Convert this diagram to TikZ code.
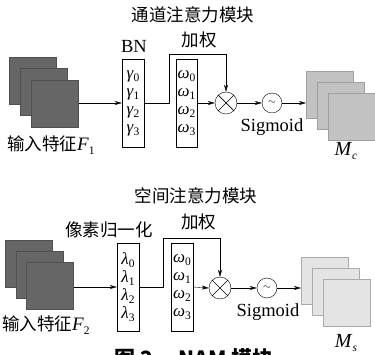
\documentclass[tikz,border=0pt]{standalone}
\usepackage{fontspec}
\setmainfont{Liberation Serif}
\newfontfamily\cjk{Noto Sans CJK SC}
\usetikzlibrary{arrows.meta}
\definecolor{darkfill}{HTML}{666666}
\definecolor{darkline}{HTML}{505050}
\definecolor{midfill}{HTML}{C2C2C2}
\definecolor{midline}{HTML}{A0A0A0}
\definecolor{lightfill}{HTML}{E4E4E4}
\definecolor{lightline}{HTML}{ABABAB}
% italic symbol with a lowered, smaller index
\newcommand\symidx[2]{\textit{#1}\raisebox{-0.45ex}{\fontsize{11.5}{12}\selectfont #2}}
\tikzset{
  x=1pt, y=-1pt,
  line width=0.8pt,
  arr/.style={-{Stealth[length=7pt,width=4pt]}},
  sheet/.style={rectangle, minimum width=47pt, minimum height=47pt,
    inner sep=0pt, anchor=north west, line width=0.6pt},
  darksheet/.style={sheet, fill=darkfill, draw=darkline},
  midsheet/.style={sheet, fill=midfill, draw=midline},
  lightsheet/.style={sheet, fill=lightfill, draw=lightline},
  vecbox/.style={draw, rectangle, minimum width=22pt, minimum height=88pt,
    inner sep=0pt, align=center, font=\fontsize{17}{18}\selectfont},
  opnode/.style={draw, circle, minimum size=22pt, inner sep=0pt},
  signode/.style={draw, circle, minimum size=20pt, inner sep=0pt},
  cjklabel/.style={inner sep=0pt, font=\cjk\fontsize{17.5}{20}\selectfont},
  latlabel/.style={inner sep=0pt, font=\fontsize{18.5}{20}\selectfont},
}
\begin{document}
\begin{tikzpicture}
\useasboundingbox (0,0) rectangle (375,355);

% ---------- channel attention ----------
\node[cjklabel] (title1) at (193,15) {通道注意力模块};

\node[darksheet] (in1a) at (9,57) {};
\node[darksheet] (in1b) at (20,68) {};
\node[darksheet] (in1c) at (31,80) {};
\node[cjklabel, anchor=west] (inlab1) at (7,145) {输入特征{\rmfamily\fontsize{19}{20}\selectfont\symidx{F}{1}}};

\node[vecbox] (bn) at (133,103) {\symidx{γ}{0}\\\symidx{γ}{1}\\\symidx{γ}{2}\\\symidx{γ}{3}};
\node[latlabel] (bnlab) at (134,46) {BN};

\node[vecbox, minimum width=21pt] (w1) at (186.5,103) {\symidx{ω}{0}\\\symidx{ω}{1}\\\symidx{ω}{2}\\\symidx{ω}{3}};
\node[cjklabel] (wlab1) at (199,40) {加权};

\node[opnode] (mul1) at (226,103) {};
\draw[line width=0.7pt] (mul1.north west) -- (mul1.south east)
                        (mul1.north east) -- (mul1.south west);
\node[signode] (sig1) at (272,103) {$\sim$};
\node[latlabel] (siglab1) at (272,127) {Sigmoid};

\node[midsheet] (out1a) at (306,71) {};
\node[midsheet] (out1b) at (317,82) {};
\node[midsheet] (out1c) at (328,93) {};
\node[latlabel] (mc) at (346,151) {\fontsize{20}{20}\selectfont\symidx{M}{\textit{c}}};

\coordinate (turn1) at (169,54);
\draw[arr] (bn.west -| in1c.east) -- (bn.west);
\draw[arr] (bn.east) -| (turn1) -| (mul1.north);
\draw[arr] (w1.east) -- (mul1.west);
\draw[arr] (mul1.east) -- (sig1.west);
\draw[arr] (sig1.east) -- (sig1.east -| out1a.west);

% ---------- spatial attention ----------
\node[cjklabel] (title2) at (196,196) {空间注意力模块};

\node[darksheet] (in2a) at (5,240) {};
\node[darksheet] (in2b) at (16,251) {};
\node[darksheet] (in2c) at (26,262) {};
\node[cjklabel, anchor=west] (inlab2) at (2,325) {输入特征{\rmfamily\fontsize{19}{20}\selectfont\symidx{F}{2}}};

\node[vecbox] (lam) at (128,287) {\symidx{λ}{0}\\\symidx{λ}{1}\\\symidx{λ}{2}\\\symidx{λ}{3}};
\node[cjklabel] (lamlab) at (109,230) {像素归一化};

\node[vecbox] (w2) at (182,287) {\symidx{ω}{0}\\\symidx{ω}{1}\\\symidx{ω}{2}\\\symidx{ω}{3}};
\node[cjklabel] (wlab2) at (198.5,222) {加权};

\node[opnode] (mul2) at (220,288) {};
\draw[line width=0.7pt] (mul2.north west) -- (mul2.south east)
                        (mul2.north east) -- (mul2.south west);
\node[signode] (sig2) at (267,288) {$\sim$};
\node[latlabel] (siglab2) at (268,312) {Sigmoid};

\node[lightsheet] (out2a) at (301,257) {};
\node[lightsheet] (out2b) at (312,268) {};
\node[lightsheet] (out2c) at (323,279) {};
\node[latlabel] (ms) at (346,343) {\fontsize{20}{20}\selectfont\symidx{M}{\textit{s}}};

\coordinate (turn2) at (163,238);
\draw[arr] (lam.west -| in2c.east) -- (lam.west);
\draw[arr] (lam.east) -| (turn2) -| (mul2.north);
\draw[arr] (w2.east) -- (mul2.west);
\draw[arr] (mul2.east) -- (sig2.west);
\draw[arr] (sig2.east) -- (sig2.east -| out2a.west);

% ---------- figure caption (runs past the lower edge) ----------
\node[inner sep=0pt, anchor=north west, font=\cjk\bfseries\fontsize{21}{22}\selectfont]
  (caption) at (114,348) {图 2\hspace{26pt}NAM 模块};
\end{tikzpicture}
\end{document}
